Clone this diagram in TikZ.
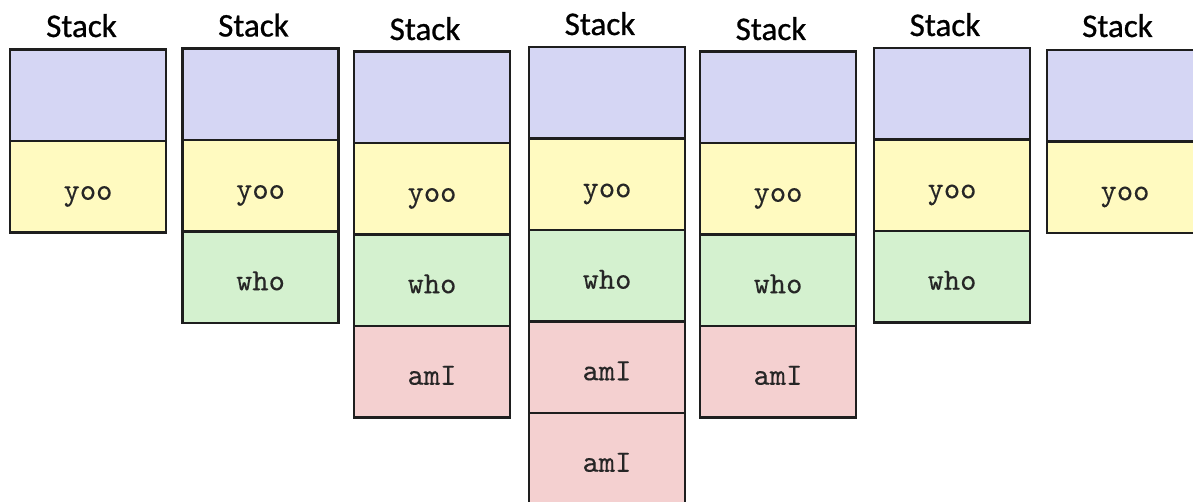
\documentclass[tikz,border=0pt]{standalone}
\usepackage{fontspec}
\newfontfamily\titlefont[FakeBold=0.8]{Carlito}
\newfontfamily\cellfont[FakeBold=0.15]{lmmono10-regular.otf}
\definecolor{cblue}{HTML}{D5D6F4}
\definecolor{cyellow}{HTML}{FFFAC0}
\definecolor{cgreen}{HTML}{D4F1CF}
\definecolor{cred}{HTML}{F4D0D0}
\definecolor{edge}{HTML}{1E1E1E}
\tikzset{
  cell/.style={draw=edge, line width=2.5pt, minimum width=156pt, minimum height=91.5pt,
    inner sep=0pt, text height=26pt, text depth=0pt,
    font=\cellfont\fontsize{31}{34}\selectfont, text=black!85},
  bluecell/.style={cell, fill=cblue},
  yelcell/.style={cell, fill=cyellow},
  grncell/.style={cell, fill=cgreen},
  redcell/.style={cell, fill=cred},
  title/.style={anchor=base, inner sep=0pt, font=\titlefont\fontsize{33}{38}\selectfont}
}
\begin{document}
\begin{tikzpicture}[x=1pt, y=-1pt]
\clip (0,0) rectangle (1193,502);
\fill[white] (0,0) rectangle (1193,502);
% Stack 1
\node[title] (t1) at (81.5,37) {Stack};
\node[bluecell] (s1a) at (88,95.25) {};
\node[yelcell] (s1b) at (88,186.75) {yoo};
% Stack 2
\node[title] (t2) at (253.5,36.5) {Stack};
\node[bluecell] (s2a) at (260.5,94.25) {};
\node[yelcell] (s2b) at (260.5,185.75) {yoo};
\node[grncell] (s2c) at (260.5,277.25) {who};
% Stack 3
\node[title] (t3) at (425,40) {Stack};
\node[bluecell] (s3a) at (432,97.25) {};
\node[yelcell] (s3b) at (432,188.75) {yoo};
\node[grncell] (s3c) at (432,280.25) {who};
\node[redcell] (s3d) at (432,371.75) {amI};
% Stack 4
\node[title] (t4) at (600,35) {Stack};
\node[bluecell] (s4a) at (607,92.75) {};
\node[yelcell] (s4b) at (607,184.25) {yoo};
\node[grncell] (s4c) at (607,275.75) {who};
\node[redcell] (s4d) at (607,367.25) {amI};
\node[redcell] (s4e) at (607,458.75) {amI};
% Stack 5
\node[title] (t5) at (771,40) {Stack};
\node[bluecell] (s5a) at (778,97.25) {};
\node[yelcell] (s5b) at (778,188.75) {yoo};
\node[grncell] (s5c) at (778,280.25) {who};
\node[redcell] (s5d) at (778,371.75) {amI};
% Stack 6
\node[title] (t6) at (945,36) {Stack};
\node[bluecell] (s6a) at (952,93.75) {};
\node[yelcell] (s6b) at (952,185.25) {yoo};
\node[grncell] (s6c) at (952,276.75) {who};
% Stack 7
\node[title] (t7) at (1117.5,37) {Stack};
\node[bluecell] (s7a) at (1125,95.75) {};
\node[yelcell] (s7b) at (1125,187.25) {yoo};
\end{tikzpicture}
\end{document}
